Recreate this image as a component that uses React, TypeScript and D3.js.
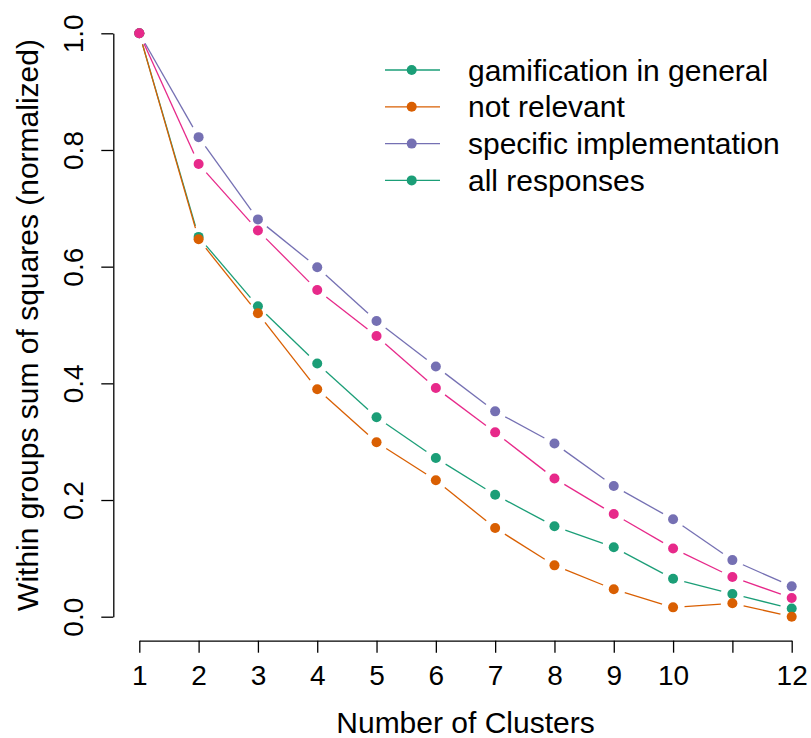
import * as d3 from 'd3';
import { useEffect, useRef } from 'react';

const clusters = [1, 2, 3, 4, 5, 6, 7, 8, 9, 10, 11, 12];
const gamification = [1.0, 0.651, 0.532, 0.434, 0.342, 0.272, 0.209, 0.155, 0.119, 0.065, 0.039, 0.014];
const notRelevant = [1.0, 0.647, 0.52, 0.39, 0.299, 0.234, 0.152, 0.088, 0.047, 0.016, 0.023, 0.0];
const specificImpl = [1.0, 0.822, 0.681, 0.599, 0.507, 0.429, 0.352, 0.297, 0.224, 0.167, 0.097, 0.052];
const allResponses = [1.0, 0.776, 0.662, 0.56, 0.481, 0.392, 0.316, 0.237, 0.176, 0.117, 0.068, 0.032];

const xTickLabels = ['1', '2', '3', '4', '5', '6', '7', '8', '9', '10', '', '12'];
const yTicks = [0, 0.2, 0.4, 0.6, 0.8, 1.0];

const seriesNames = ['gamification in general', 'not relevant', 'specific implementation', 'all responses'];
const seriesColors = ['#1B9E77', '#D95F02', '#7570B3', '#E7298A'];
// legend in the original shows green for the last entry
const legendColors = ['#1B9E77', '#D95F02', '#7570B3', '#1B9E77'];

const FONT = "'Liberation Sans', Arial, Helvetica, sans-serif";

const App = () => {
  const xAxisRef = useRef<SVGGElement>(null);
  const yAxisRef = useRef<SVGGElement>(null);

  const width = 811, height = 738;
  const x = d3.scaleLinear().domain([1, 12]).range([139.3, 791.7]);
  const y = d3.scaleLinear().domain([0, 1]).range([616.7, 33.3]);
  const xAxisY = 640.7;
  const yAxisX = 113.3;

  const data = [gamification, notRelevant, specificImpl, allResponses];
  const gap = 11.5;
  const r = 5;

  useEffect(() => {
    const gx = d3.select(xAxisRef.current);
    gx.selectAll('*').remove();
    gx.call(
      d3.axisBottom(x)
        .tickValues(clusters)
        .tickFormat((d: any, i: number) => xTickLabels[i])
        .tickSize(12)
        .tickSizeOuter(0)
        .tickPadding(12.4)
    );
    gx.selectAll('text').style('font-size', '28px').style('font-family', FONT).attr('fill', '#000');
    gx.selectAll('line, path').attr('stroke', '#000').attr('stroke-width', 1.3);

    const gy = d3.select(yAxisRef.current);
    gy.selectAll('*').remove();
    gy.call(
      d3.axisLeft(y)
        .tickValues(yTicks)
        .tickFormat((d: any) => d3.format('.1f')(d))
        .tickSize(12)
        .tickSizeOuter(0)
    );
    gy.selectAll('text')
      .attr('transform', 'rotate(-90)')
      .attr('x', 0)
      .attr('y', -30.3)
      .attr('dy', null)
      .attr('text-anchor', 'middle')
      .style('font-size', '28px')
      .style('font-family', FONT)
      .attr('fill', '#000');
    gy.selectAll('line, path').attr('stroke', '#000').attr('stroke-width', 1.3);
  }, []);

  const segments = (vals: number[]) => {
    const segs: { x1: number; y1: number; x2: number; y2: number }[] = [];
    for (let i = 0; i < vals.length - 1; i++) {
      const ax = x(clusters[i]), ay = y(vals[i]);
      const bx = x(clusters[i + 1]), by = y(vals[i + 1]);
      const len = Math.hypot(bx - ax, by - ay);
      if (len <= gap * 2) continue;
      const ux = (bx - ax) / len, uy = (by - ay) / len;
      segs.push({ x1: ax + ux * gap, y1: ay + uy * gap, x2: bx - ux * gap, y2: by - uy * gap });
    }
    return segs;
  };

  return (
    <div style={{ position: 'absolute', left: 0, top: 0 }}>
      <svg width={width} height={height} style={{ display: 'block', background: '#fff' }}>
        <g ref={xAxisRef} transform={`translate(0,${xAxisY})`} />
        <g ref={yAxisRef} transform={`translate(${yAxisX},0)`} />

        {data.map((vals, si) => (
          <g key={si}>
            {segments(vals).map((s, i) => (
              <line key={i} x1={s.x1} y1={s.y1} x2={s.x2} y2={s.y2} stroke={seriesColors[si]} strokeWidth={1.3} />
            ))}
            {vals.map((v, i) => (
              <circle key={i} cx={x(clusters[i])} cy={y(v)} r={r} fill={seriesColors[si]} />
            ))}
          </g>
        ))}

        <text x={(x(1) + x(12)) / 2} y={733.3} textAnchor="middle" fontFamily={FONT} fontSize={30}>
          Number of Clusters
        </text>
        <text
          transform={`translate(38,${(y(0) + y(1)) / 2}) rotate(-90)`}
          textAnchor="middle"
          fontFamily={FONT}
          fontSize={30}
        >
          Within groups sum of squares (normalized)
        </text>

        <g>
          {seriesNames.map((name, i) => {
            const cy = 70 + i * 36.8;
            return (
              <g key={name}>
                <line x1={385} x2={440} y1={cy} y2={cy} stroke={legendColors[i]} strokeWidth={1.3} />
                <circle cx={411.7} cy={cy} r={r} fill={legendColors[i]} />
                <text x={468} y={cy + 10.5} fontFamily={FONT} fontSize={30} fill="#000">
                  {name}
                </text>
              </g>
            );
          })}
        </g>
      </svg>
    </div>
  );
};

export default App;
